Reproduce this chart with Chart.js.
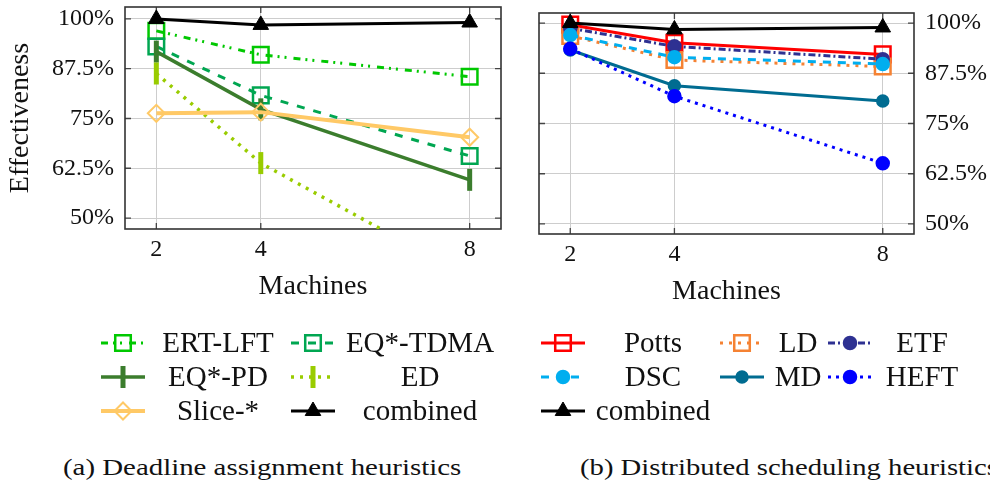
<!DOCTYPE html>
<html>
<head>
<meta charset="utf-8">
<script src="https://cdn.jsdelivr.net/npm/chart.js"></script>
<style>
  body { margin: 0; width: 990px; height: 489px; overflow: hidden; background: #fff; position: relative; font-family: 'Liberation Serif'; }
  canvas { position: absolute; top: 0; }
  #chartA { left: 0; }
  #chartB { left: 505px; }
  .cap { position: absolute; top: 454px; font-size: 24px; white-space: nowrap; transform-origin: 0 0; color: #111; }
</style>
</head>
<body>
<canvas id="chartA" width="505" height="440"></canvas>
<canvas id="chartB" width="485" height="440"></canvas>
<div class="cap" id="capA" style="left:63px">(a) Deadline assignment heuristics</div>
<div class="cap" id="capB" style="left:580px">(b) Distributed scheduling heuristics</div>
<script>
const FONT = "'Liberation Serif'";

// x values and y ticks
const machines = [2, 4, 8];
const yTicks = [50, 62.5, 75, 87.5, 100];

// (a) deadline assignment heuristics, effectiveness in %
const ertLft   = [97.0, 91.0, 85.5];
const eqTdma   = [93.1, 80.8, 65.6];
const eqPd     = [91.8, 77.3, 59.6];
const ed       = [86.3, 63.8, 35.0];
const sliceAll = [76.3, 76.6, 70.3];
const combinedA = [100, 98.5, 99.1];

// (b) distributed scheduling heuristics
const potts = [99.6, 95.1, 92.2];
const ld    = [96.8, 90.8, 89.2];
const etf   = [98.7, 94.2, 91.0];
const dsc   = [97.0, 91.5, 89.8];
const md    = [93.3, 84.4, 80.6];
const heft  = [93.6, 81.8, 65.1];
const combinedB = [100, 98.4, 98.9];

function series(label, values, color, extra) {
  return Object.assign({
    label,
    data: machines.map((m, i) => ({ x: m, y: values[i] })),
    borderColor: color,
    backgroundColor: color,
    pointBorderColor: color,
    pointBackgroundColor: color,
    borderWidth: 3,
    pointRadius: 6,
    pointHoverRadius: 6,
    pointBorderWidth: 2.5,
    tension: 0,
    fill: false
  }, extra);
}

const hollow = 'rgba(0,0,0,0)';

// small inward ticks + box, pgfplots style
const framePlugin = {
  id: 'frame',
  beforeDatasetsDraw(chart) {
    const { ctx, chartArea: a, scales } = chart;
    ctx.save();
    ctx.strokeStyle = '#444';
    ctx.lineWidth = 1.3;
    ctx.beginPath();
    scales.y.ticks.forEach(t => {
      const y = scales.y.getPixelForValue(t.value);
      ctx.moveTo(a.left, y); ctx.lineTo(a.left + 6, y);
      ctx.moveTo(a.right, y); ctx.lineTo(a.right - 6, y);
    });
    scales.x.ticks.forEach(t => {
      const x = scales.x.getPixelForValue(t.value);
      ctx.moveTo(x, a.bottom); ctx.lineTo(x, a.bottom - 6);
      ctx.moveTo(x, a.top); ctx.lineTo(x, a.top + 6);
    });
    ctx.stroke();
    ctx.strokeStyle = '#333';
    ctx.lineWidth = 1.6;
    ctx.strokeRect(a.left, a.top, a.right - a.left, a.bottom - a.top);
    ctx.restore();
  }
};

function marker(ctx, ds, x, y) {
  ctx.fillStyle = ds.pointBackgroundColor;
  ctx.strokeStyle = ds.pointBorderColor;
  ctx.lineWidth = ds.pointBorderWidth;
  ctx.setLineDash([]);
  const opts = { pointStyle: ds.pointStyle || 'circle', radius: ds.pointRadius, rotation: ds.pointRotation || 0, borderWidth: ds.pointBorderWidth };
  if (Chart.helpers && Chart.helpers.drawPoint) {
    Chart.helpers.drawPoint(ctx, opts, x, y);
  } else {
    ctx.beginPath();
    ctx.arc(x, y, ds.pointRadius, 0, Math.PI * 2);
    ctx.fill();
    ctx.stroke();
  }
}

// grid legend under each plot
const legendPlugin = {
  id: 'gridLegend',
  afterDraw(chart, args, opts) {
    const ctx = chart.ctx;
    ctx.save();
    opts.items.forEach(it => {
      const ds = chart.data.datasets[it.i];
      ctx.strokeStyle = ds.borderColor;
      ctx.lineWidth = ds.borderWidth;
      ctx.setLineDash(ds.borderDash || []);
      ctx.beginPath();
      ctx.moveTo(it.x - 22, it.y);
      ctx.lineTo(it.x + 22, it.y);
      ctx.stroke();
      marker(ctx, ds, it.x, it.y);
      ctx.fillStyle = '#111';
      ctx.font = '29px ' + FONT;
      ctx.textAlign = 'center';
      ctx.textBaseline = 'middle';
      ctx.fillText(ds.label, it.tx, it.y + 1);
    });
    ctx.restore();
  }
};

function scales(side, yWidth, yTitle) {
  return {
    x: {
      type: 'linear', min: 1.4, max: 8.6,
      afterBuildTicks: s => { s.ticks = machines.map(v => ({ value: v })); },
      afterFit: s => { s.height = 74; s.paddingLeft = 0; s.paddingRight = 0; },
      grid: { color: '#cdcdcd', lineWidth: 1, drawTicks: false },
      border: { display: false },
      ticks: { color: '#111', font: { family: FONT, size: 24 }, padding: 6, callback: v => String(v) },
      title: { display: true, text: 'Machines', color: '#111', font: { family: FONT, size: 28 }, padding: { top: 0, bottom: 0 } }
    },
    y: {
      position: side, min: side === 'left' ? 47.25 : 47.5, max: side === 'left' ? 103 : 102.5,
      afterBuildTicks: s => { s.ticks = yTicks.map(v => ({ value: v })); },
      afterFit: s => { s.width = yWidth; s.paddingTop = 0; s.paddingBottom = 0; },
      grid: { color: '#cdcdcd', lineWidth: 1, drawTicks: false },
      border: { display: false },
      ticks: { color: '#111', font: { family: FONT, size: 24 }, padding: 11, callback: v => v + '%' },
      title: { display: !!yTitle, text: yTitle || '', color: '#111', font: { family: FONT, size: 28 }, padding: { top: 4, bottom: 0 } }
    }
  };
}

const common = {
  responsive: false,
  animation: false,
  events: [],
  plugins: { legend: { display: false }, tooltip: { enabled: false } }
};

const dsA = [
  series('ERT-LFT', ertLft, '#00c800', { borderDash: [7, 5, 2, 5, 2, 7], pointStyle: 'rect', pointRadius: 11, pointBackgroundColor: hollow }),
  series('EQ*-TDMA', eqTdma, '#00a651', { borderDash: [8, 9], pointStyle: 'rect', pointRadius: 11, pointBackgroundColor: hollow }),
  series('EQ*-PD', eqPd, '#3b7d2d', { borderWidth: 3.5, pointStyle: 'line', pointRotation: 90, pointRadius: 11, pointBorderWidth: 5 }),
  series('ED', ed, '#99cc00', { borderWidth: 3.5, borderDash: [3, 6], pointStyle: 'line', pointRotation: 90, pointRadius: 11, pointBorderWidth: 5 }),
  series('Slice-*', sliceAll, '#ffc966', { borderWidth: 4, pointStyle: 'rectRot', pointRadius: 8.5, pointBorderWidth: 2, pointBackgroundColor: hollow }),
  series('combined', combinedA, '#000000', { pointStyle: 'triangle', pointRadius: 9, pointBorderWidth: 1 })
];
dsA.forEach((d, i) => { d.order = dsA.length - i; });

new Chart(document.getElementById('chartA'), {
  type: 'line',
  data: { datasets: dsA },
  options: Object.assign({}, common, {
    layout: { autoPadding: false, padding: { top: 7, right: 4, bottom: 137, left: 0 } },
    scales: scales('left', 125, 'Effectiveness'),
    plugins: Object.assign({}, common.plugins, {
      gridLegend: { items: [
        { i: 0, x: 123, y: 343, tx: 218 }, { i: 1, x: 313, y: 343, tx: 420 },
        { i: 2, x: 123, y: 377, tx: 218 }, { i: 3, x: 313, y: 377, tx: 420 },
        { i: 4, x: 123, y: 411, tx: 218 }, { i: 5, x: 313, y: 411, tx: 420 }
      ] }
    })
  }),
  plugins: [framePlugin, legendPlugin]
});

const dsB = [
  series('Potts', potts, '#ff0000', { pointStyle: 'rect', pointRadius: 11, pointBackgroundColor: hollow }),
  series('LD', ld, '#f58233', { borderDash: [3, 6], pointStyle: 'rect', pointRadius: 11, pointBackgroundColor: hollow }),
  series('ETF', etf, '#2e3192', { borderDash: [7, 3, 2, 3] }),
  series('DSC', dsc, '#00aeef', { borderDash: [8, 7] }),
  series('MD', md, '#006c91', { pointRadius: 5.5 }),
  series('HEFT', heft, '#0000ff', { borderDash: [3, 5] }),
  series('combined', combinedB, '#000000', { pointStyle: 'triangle', pointRadius: 9, pointBorderWidth: 1 })
];
dsB.forEach((d, i) => { d.order = dsB.length - i; });

new Chart(document.getElementById('chartB'), {
  type: 'line',
  data: { datasets: dsB },
  options: Object.assign({}, common, {
    layout: { autoPadding: false, padding: { top: 13, right: 0, bottom: 132, left: 34 } },
    scales: scales('right', 76, null),
    plugins: Object.assign({}, common.plugins, {
      gridLegend: { items: [
        { i: 0, x: 58, y: 343, tx: 148 }, { i: 1, x: 237, y: 343, tx: 293 }, { i: 2, x: 345, y: 343, tx: 417 },
        { i: 3, x: 58, y: 377, tx: 148 }, { i: 4, x: 237, y: 377, tx: 293 }, { i: 5, x: 345, y: 377, tx: 417 },
        { i: 6, x: 58, y: 411, tx: 148 }
      ] }
    })
  }),
  plugins: [framePlugin, legendPlugin]
});

// stretch captions to the reference widths
[['capA', 398], ['capB', 418]].forEach(([id, w]) => {
  const el = document.getElementById(id);
  el.style.transform = 'scaleX(' + (w / el.offsetWidth) + ')';
});
</script>
</body>
</html>
